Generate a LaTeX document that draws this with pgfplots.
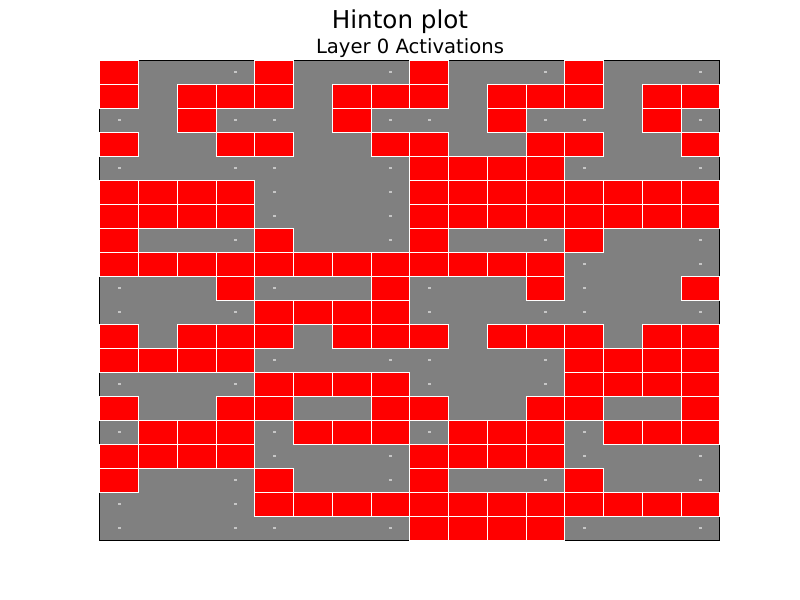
\documentclass[border=0pt]{standalone}
\usepackage{fontspec}
\setmainfont{DejaVu Sans}
\usepackage{pgfplots}
\pgfplotsset{compat=1.18}
\pgfdeclareplotmark{hcell}{\pgfpathrectangle{\pgfpoint{-9.6875pt}{-6pt}}{\pgfpoint{19.375pt}{12pt}}\pgfusepathqfillstroke}
\pgfdeclareplotmark{hdot}{\pgfpathrectangle{\pgfpoint{-0.6pt}{-0.35pt}}{\pgfpoint{1.2pt}{0.7pt}}\pgfusepathqfill}
\begin{document}
\begin{tikzpicture}
\useasboundingbox (-50pt,-30pt) rectangle (350pt,270pt);
\begin{axis}[scale only axis, width=310pt, height=240pt,
  xmin=-0.5, xmax=15.5, ymin=-0.5, ymax=19.5, y dir=reverse,
  xtick=\empty, ytick=\empty,
  axis background/.style={fill=gray},
  axis on top, axis line style={line width=0.5pt, black}]
\addplot[only marks, mark=hcell, mark options={fill=red, draw=white, line width=0.5pt}] coordinates {
(0,0)(4,0)(8,0)(12,0)
(0,1)(2,1)(3,1)(4,1)(6,1)(7,1)(8,1)(10,1)(11,1)(12,1)(14,1)(15,1)
(2,2)(6,2)(10,2)(14,2)
(0,3)(3,3)(4,3)(7,3)(8,3)(11,3)(12,3)(15,3)
(8,4)(9,4)(10,4)(11,4)
(0,5)(1,5)(2,5)(3,5)(8,5)(9,5)(10,5)(11,5)(12,5)(13,5)(14,5)(15,5)
(0,6)(1,6)(2,6)(3,6)(8,6)(9,6)(10,6)(11,6)(12,6)(13,6)(14,6)(15,6)
(0,7)(4,7)(8,7)(12,7)
(0,8)(1,8)(2,8)(3,8)(4,8)(5,8)(6,8)(7,8)(8,8)(9,8)(10,8)(11,8)
(3,9)(7,9)(11,9)(15,9)
(4,10)(5,10)(6,10)(7,10)
(0,11)(2,11)(3,11)(4,11)(6,11)(7,11)(8,11)(10,11)(11,11)(12,11)(14,11)(15,11)
(0,12)(1,12)(2,12)(3,12)(12,12)(13,12)(14,12)(15,12)
(4,13)(5,13)(6,13)(7,13)(12,13)(13,13)(14,13)(15,13)
(0,14)(3,14)(4,14)(7,14)(8,14)(11,14)(12,14)(15,14)
(1,15)(2,15)(3,15)(5,15)(6,15)(7,15)(9,15)(10,15)(11,15)(13,15)(14,15)(15,15)
(0,16)(1,16)(2,16)(3,16)(8,16)(9,16)(10,16)(11,16)
(0,17)(4,17)(8,17)(12,17)
(4,18)(5,18)(6,18)(7,18)(8,18)(9,18)(10,18)(11,18)(12,18)(13,18)(14,18)(15,18)
(8,19)(9,19)(10,19)(11,19)
};
\addplot[only marks, mark=hdot, mark options={fill=gray!45!white, draw=none}] coordinates {
(3,0)(7,0)(11,0)(15,0)
(0,2)(3,2)(4,2)(7,2)(8,2)(11,2)(12,2)(15,2)
(0,4)(3,4)(4,4)(7,4)(12,4)(15,4)
(4,5)(7,5)
(4,6)(7,6)
(3,7)(7,7)(11,7)(15,7)
(12,8)(15,8)
(0,9)(4,9)(8,9)(12,9)
(0,10)(3,10)(8,10)(11,10)(12,10)(15,10)
(4,12)(7,12)(8,12)(11,12)
(0,13)(3,13)(8,13)(11,13)
(0,15)(4,15)(8,15)(12,15)
(4,16)(7,16)(12,16)(15,16)
(3,17)(7,17)(11,17)(15,17)
(0,18)(3,18)
(0,19)(3,19)(4,19)(7,19)(12,19)(15,19)
};
\end{axis}
\node[anchor=base, font=\fontsize{12.3}{14}\selectfont] at (150pt,255.5pt) {Hinton plot};
\node[anchor=base, font=\fontsize{9.8}{12}\selectfont] at (155pt,243pt) {Layer 0 Activations};
\end{tikzpicture}
\end{document}
